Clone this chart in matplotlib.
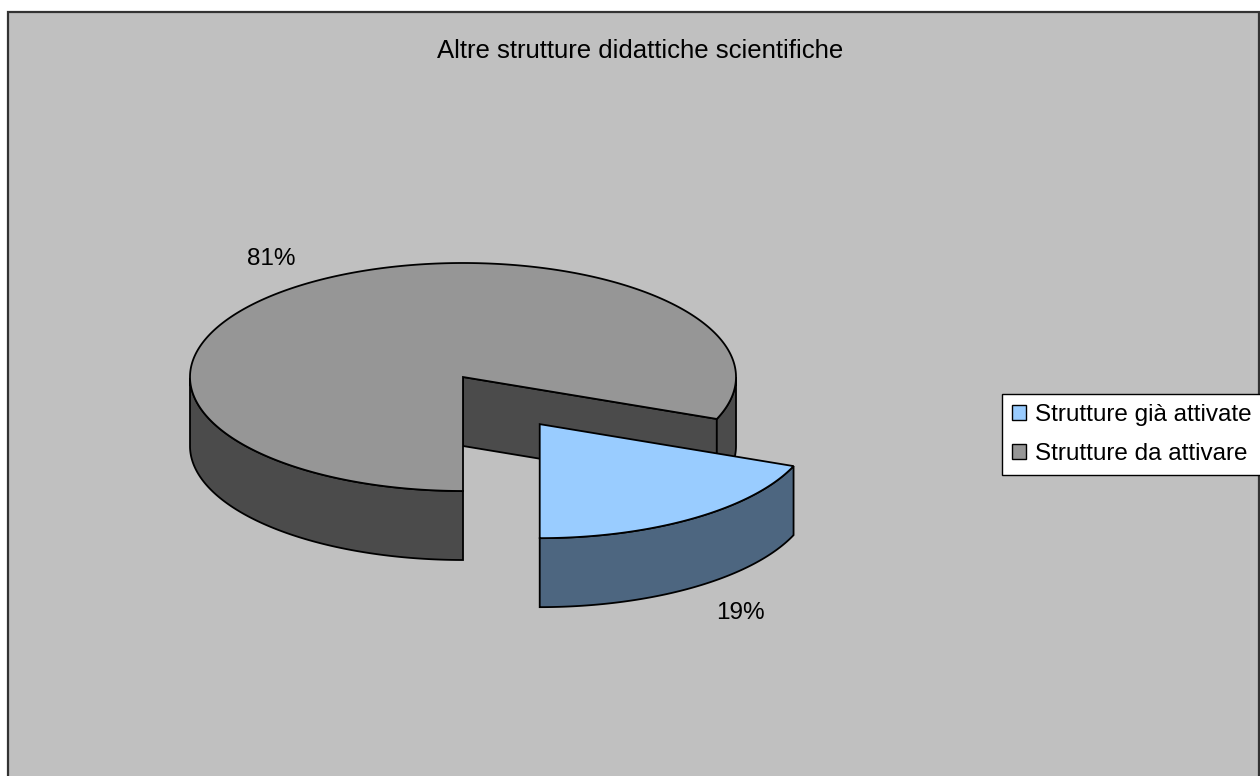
import numpy as np
import matplotlib
matplotlib.use("Agg")
import matplotlib.pyplot as plt
import matplotlib.patches as mpatches

plt.rcParams['font.family'] = ['Liberation Sans', 'DejaVu Sans']

# data
labels = ["Strutture già attivate", "Strutture da attivare"]
values = [19, 81]
explode = [0.5, 0.0]
top_colors = ['#99CCFF', '#969696']
side_colors = ['#4D6680', '#4B4B4B']
title = "Altre strutture didattiche scientifiche"

# pie geometry in pixels (axes span the whole figure)
cx, cy = 463, 377
rx, ry = 273, 114
depth = 69
first_angle = 111.6   # clockwise from 12 o'clock, like Excel


def pt(t, ox, oy, r=1.0, z=0.0):
    return (cx + ox + r * rx * np.cos(t), cy + oy - r * ry * np.sin(t) + z)


fig = plt.figure(figsize=(12.6, 7.76), dpi=100)
ax = fig.add_axes([0, 0, 1, 1])
ax.set_xlim(0, 1260)
ax.set_ylim(776, 0)
ax.axis('off')

# chart area
ax.add_patch(mpatches.Rectangle((8, 12), 1251, 800, facecolor='#C0C0C0',
                                edgecolor='#333333', linewidth=1.6))

ax.text(640, 58, title, ha='center', va='baseline', fontsize=18.5)

total = float(sum(values))
fracs = [v / total for v in values]
start = np.deg2rad(90 - first_angle)

slices = []
t1 = start
for i, f in enumerate(fracs):
    t2 = t1 - 2 * np.pi * f
    mid = (t1 + t2) / 2
    ox = explode[i] * rx * np.cos(mid)
    oy = -explode[i] * ry * np.sin(mid)
    slices.append((i, t1, t2, mid, ox, oy))
    t1 = t2

lw = 1.3
# back slices first
for i, t1, t2, mid, ox, oy in sorted(slices, key=lambda s: s[5]):
    # radial cut faces
    for t, normal in [(t1, t1 + np.pi / 2), (t2, t2 - np.pi / 2)]:
        if np.sin(normal) < -1e-6:
            poly = [pt(t, ox, oy, 0), pt(t, ox, oy, 1), pt(t, ox, oy, 1, depth),
                    pt(t, ox, oy, 0, depth)]
            ax.add_patch(mpatches.Polygon(poly, closed=True, facecolor=side_colors[i],
                                          edgecolor='black', linewidth=lw))
    # outer wall, front part only
    ts = np.linspace(t1, t2, 600)
    front = np.sin(ts) <= 1e-9
    runs = []
    cur = []
    for t, fr in zip(ts, front):
        if fr:
            cur.append(t)
        elif cur:
            runs.append(cur)
            cur = []
    if cur:
        runs.append(cur)
    for run in runs:
        if len(run) < 2:
            continue
        run = np.array(run)
        top = [pt(t, ox, oy) for t in run]
        bot = [pt(t, ox, oy, 1, depth) for t in run[::-1]]
        ax.add_patch(mpatches.Polygon(top + bot, closed=True, facecolor=side_colors[i],
                                      edgecolor='black', linewidth=lw))
    # top face
    poly = [pt(0, ox, oy, 0)] + [pt(t, ox, oy) for t in ts]
    ax.add_patch(mpatches.Polygon(poly, closed=True, facecolor=top_colors[i],
                                  edgecolor='black', linewidth=lw))

# percentage labels
pct_pos = [(740, 613), (271, 259)]
for (x, y), v in zip(pct_pos, values):
    ax.text(x, y, "%d%%" % round(100 * v / total), ha='center', va='center',
            fontsize=17.5)

handles = [mpatches.Patch(facecolor=c, edgecolor='black', linewidth=1.0)
           for c in top_colors]
leg = ax.legend(handles, labels, loc='upper left',
                bbox_to_anchor=(1002 / 1260, 1 - 394 / 776),
                bbox_transform=fig.transFigure, borderaxespad=0,
                fontsize=17.5, handlelength=0.55, handleheight=0.55,
                handletextpad=0.4, labelspacing=0.7, borderpad=0.42,
                fancybox=False, framealpha=1, edgecolor='black')
leg.get_frame().set_linewidth(1.0)

fig.savefig('out.png', dpi=100, facecolor='white')
